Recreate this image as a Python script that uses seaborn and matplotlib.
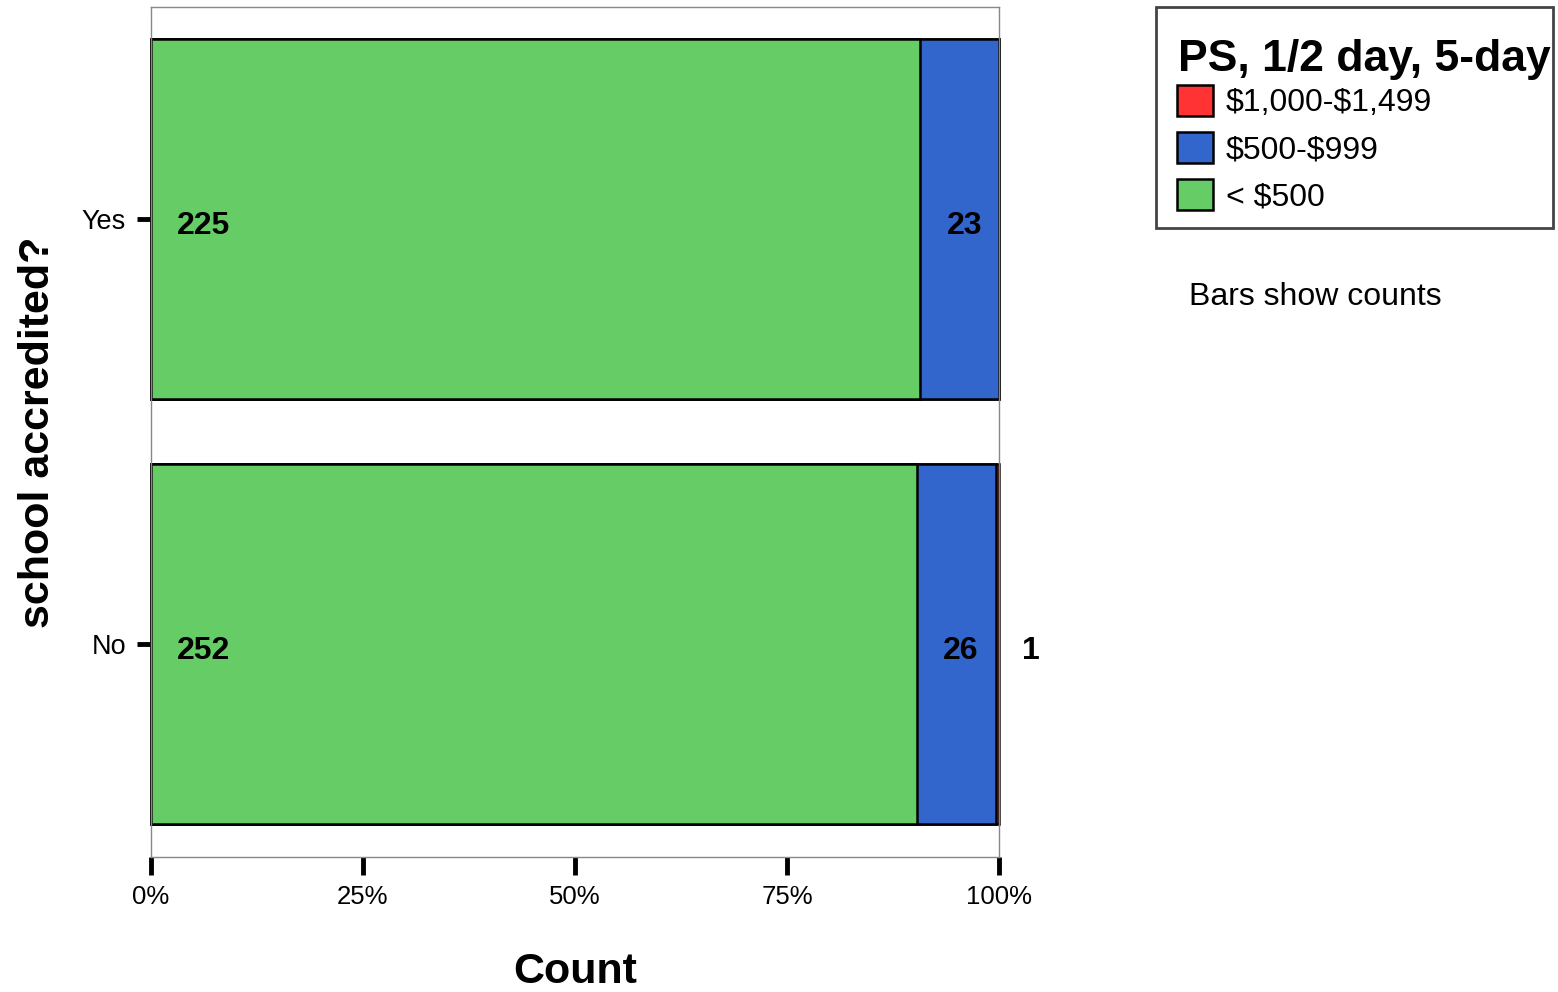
import numpy as np
import pandas as pd
import matplotlib
matplotlib.use("Agg")
import matplotlib.pyplot as plt
import seaborn as sns
from matplotlib.patches import Patch, Rectangle

# Data
accredited = ['Yes', 'No']
under_500 = [225, 252]
from_500_999 = [23, 26]
from_1000_1499 = [0, 1]

series_names = ['< \\$500', '\\$500-\\$999', '\\$1,000-\\$1,499']
series_colors = ['#66CC66', '#3366CC', '#FF3333']

counts = np.array([under_500, from_500_999, from_1000_1499], dtype=float)
totals = counts.sum(axis=0)
pct = counts / totals * 100
cum_end = pct.cumsum(axis=0)
cum_start = cum_end - pct

sns.set_style('white')
plt.rcParams['font.family'] = ['Liberation Sans', 'DejaVu Sans']
plt.rcParams['text.color'] = 'black'
plt.rcParams['axes.labelcolor'] = 'black'
plt.rcParams['xtick.color'] = 'black'
plt.rcParams['ytick.color'] = 'black'

fig = plt.figure(figsize=(15.58, 9.92), dpi=100)
ax = fig.add_axes([0.0969, 0.1361, 0.5443, 0.8569])

# draw widest cumulative first, narrower ones on top
for i in reversed(range(len(series_names))):
    df = pd.DataFrame({'accredited': accredited, 'cum': cum_end[i]})
    sns.barplot(data=df, x='cum', y='accredited', order=accredited, orient='h',
                color=series_colors[i], saturation=1, errorbar=None,
                edgecolor='black', linewidth=1.8, width=0.847, ax=ax)
for p in ax.patches:
    p.set_clip_on(False)

# count labels, left aligned a bit inside each segment
for i in range(len(series_names)):
    for j, cat in enumerate(accredited):
        if counts[i, j] > 0:
            ax.annotate(f'{int(counts[i, j])}', xy=(cum_start[i, j], j),
                        xytext=(19, -5), textcoords='offset points',
                        ha='left', va='center', fontsize=23, fontweight='bold',
                        annotation_clip=False)

ax.set_xlim(0, 100)
ax.set_ylim(1.5, -0.5)
ax.set_xticks([0, 25, 50, 75, 100])
ax.set_xticklabels(['0%', '25%', '50%', '75%', '100%'])
ax.tick_params(axis='x', bottom=True, direction='out', length=13, width=3.5,
               labelsize=18.5, pad=7)
ax.tick_params(axis='y', left=True, direction='out', length=10, width=3.5,
               labelsize=19.5, pad=8)
ax.set_xlabel('Count', fontsize=31, fontweight='bold', labelpad=31)
ax.set_ylabel('school accredited?', fontsize=31, fontweight='bold', labelpad=17)
for s in ax.spines.values():
    s.set_color('#888888')
    s.set_linewidth(1)

handles = [Patch(facecolor=series_colors[i], edgecolor='black', linewidth=1.8)
           for i in reversed(range(len(series_names)))]
labels = list(reversed(series_names))
leg = fig.legend(handles, labels, loc='upper left',
                 bbox_to_anchor=(1177 / 1558, 1 - 85 / 992),
                 fontsize=23, frameon=False,
                 handlelength=1.125, handleheight=1.125, handletextpad=0.4,
                 labelspacing=0.42, borderpad=0, borderaxespad=0)

# legend title and box
fig.text(1178 / 1558, 1 - 59 / 992, 'PS, 1/2 day, 5-day', fontsize=32,
         fontweight='bold', ha='left', va='center')
fig.patches.append(Rectangle((1156 / 1558, 1 - 228 / 992), 397 / 1558, 221 / 992,
                             transform=fig.transFigure, fill=False,
                             edgecolor='#444444', linewidth=2))

fig.text(1189 / 1558, 1 - 297 / 992, 'Bars show counts', fontsize=23,
         ha='left', va='center')

fig.savefig('out.png', dpi=100)
